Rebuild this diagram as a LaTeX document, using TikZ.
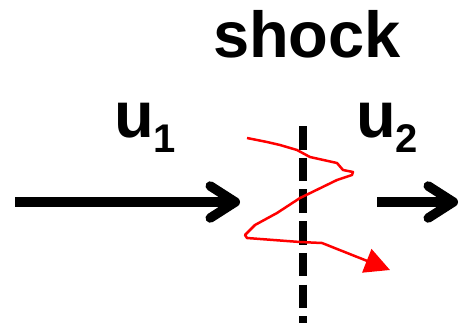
\documentclass[tikz,border=0pt]{standalone}
\usepackage{fontspec}
\setmainfont{Liberation Sans}
\usetikzlibrary{arrows.meta}
\definecolor{pathred}{RGB}{255, 0, 0}
\tikzset{
  label text/.style={font=\bfseries\fontsize{65}{70}\selectfont, inner sep=0pt},
  flow/.style={line width=9.5pt, -{Straight Barb[length=25pt,width=32pt,line cap=round,line join=round]}},
}
\newcommand{\sublabel}[2]{#1\raisebox{-15pt}{\fontsize{40}{44}\selectfont #2}}
\begin{document}
\begin{tikzpicture}[x=1pt,y=-1pt]
        \useasboundingbox (0,0) rectangle (461,325);
        \node[label text, anchor=base] (shock) at (307,57) {shock};
        \node[label text, anchor=base west] (u1) at (114,137) {\sublabel{u}{1}};
        \node[label text, anchor=base west] (u2) at (356,137) {\sublabel{u}{2}};

        \coordinate (in start) at (15,202);
        \coordinate (in end) at (240,202);
        \coordinate (out start) at (377,202);
        \coordinate (out end) at (458,202);
        \draw[flow] (in start) -- (in end);
        \draw[flow] (out start) -- (out end);

        \coordinate (front top) at (303,126);
        \coordinate (front bottom) at (303,323);
        \draw[line width=8pt, dash pattern=on 23.5pt off 8.2pt] (front top) -- (front bottom);

        \coordinate (path start) at (247,138);
        \coordinate (path end) at (390,270);
        \draw[pathred, line width=2.5pt, line join=round, -{Triangle[length=25pt,width=25pt]}]
          (path start) -- (267,142) -- (280,145) -- (297,150) -- (310,157) -- (337,163)
          -- (343,170) -- (353,172) -- (352,175) -- (337,180) -- (300,198) -- (277,213)
          -- (255,225) -- (245,235) -- (247,238) -- (300,242) -- (322,243) -- (path end);
      \end{tikzpicture}
\end{document}
